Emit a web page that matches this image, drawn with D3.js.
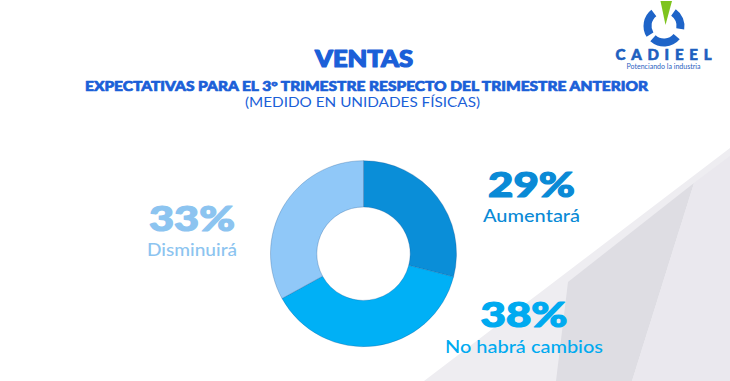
<!DOCTYPE html>
<html>
<head>
<meta charset="utf-8">
<script src="https://cdn.jsdelivr.net/npm/d3@7"></script>
<style>
  html, body { margin: 0; padding: 0; background: #ffffff; }
  svg { display: block; }
</style>
</head>
<body>
<svg id="chart" width="730" height="381"></svg>
<script>
// ---- Data ----
const categories = ["Aumentará", "No habrá cambios", "Disminuirá"];
const values = [29, 38, 33];
const valueLabels = ["29%", "38%", "33%"];
const colors = ["#0a8ed8", "#00b0f6", "#90c8f8"];
const labelColors = ["#0a8ad6", "#00aaf0", "#8cc4f0"];

const titleText = "VENTAS";
const subtitleText = "EXPECTATIVAS PARA EL 3° TRIMESTRE RESPECTO DEL TRIMESTRE ANTERIOR";
const noteText = "(MEDIDO EN UNIDADES FÍSICAS)";

const W = 730, H = 381;
const svg = d3.select("#chart");

// ---- Background decorative shapes ----
const bg = svg.append("g");
bg.append("path").attr("d", "M424,381 L730,148 L730,381 Z").attr("fill", "#eeedf1");
bg.append("path").attr("d", "M556,381 L568,282 L694,183 L632,381 Z").attr("fill", "#dedde3");
bg.append("path").attr("d", "M632,381 L694,183 L730,156 L730,381 Z").attr("fill", "#eae8ee");

// ---- Titles ----
const font = "Lato, 'Open Sans', sans-serif";
const heavy = sel => sel.attr("stroke", sel.attr("fill")).attr("stroke-linejoin", "round");
svg.append("text").attr("x", 364).attr("y", 66.8).attr("text-anchor", "middle")
  .attr("font-family", font).attr("font-weight", 900).attr("font-size", 22.5)
  .attr("textLength", 98).attr("lengthAdjust", "spacingAndGlyphs")
  .attr("fill", "#1b5fd8").call(heavy).attr("stroke-width", 1.2).text(titleText);
svg.append("text").attr("x", 366.5).attr("y", 91.3).attr("text-anchor", "middle")
  .attr("font-family", font).attr("font-weight", 900).attr("font-size", 14)
  .attr("textLength", 563).attr("lengthAdjust", "spacingAndGlyphs")
  .attr("fill", "#1b5fd8").call(heavy).attr("stroke-width", 0.7).text(subtitleText);
svg.append("text").attr("x", 362.5).attr("y", 107).attr("text-anchor", "middle")
  .attr("font-family", font).attr("font-weight", 400).attr("font-size", 13.5)
  .attr("textLength", 235).attr("lengthAdjust", "spacingAndGlyphs")
  .attr("fill", "#1b5fd8").text(noteText);

// ---- Donut ----
const cx = 363.5, cy = 253.7, rOuter = 93, rInner = 46.7;
const pie = d3.pie().sort(null).value(d => d)(values);
const arc = d3.arc().innerRadius(rInner).outerRadius(rOuter);
const g = svg.append("g").attr("transform", `translate(${cx},${cy})`);
g.selectAll("path").data(pie).join("path")
  .attr("d", arc)
  .attr("fill", (d, i) => colors[i])
  .attr("stroke", "rgba(20,80,140,0.28)")
  .attr("stroke-width", 1);

// ---- Labels ----
const labelLayout = [
  { x: 531.5, yv: 197, yc: 221.5 },
  { x: 524, yv: 327, yc: 353.3 },
  { x: 192, yv: 230.5, yc: 256 }
];
const catWidths = [97, 158, 90];
const valWidths = [87, 87, 86];
const lab = svg.append("g");
categories.forEach((c, i) => {
  const L = labelLayout[i];
  lab.append("text").attr("x", L.x).attr("y", L.yv).attr("text-anchor", "middle")
    .attr("font-family", font).attr("font-weight", 900).attr("font-size", 35)
    .attr("textLength", valWidths[i]).attr("lengthAdjust", "spacingAndGlyphs")
    .attr("fill", labelColors[i]).attr("stroke", labelColors[i]).attr("stroke-width", 1.2)
    .attr("stroke-linejoin", "round").text(valueLabels[i]);
  lab.append("text").attr("x", L.x).attr("y", L.yc).attr("text-anchor", "middle")
    .attr("font-family", font).attr("font-weight", 500).attr("font-size", 18)
    .attr("textLength", catWidths[i]).attr("lengthAdjust", "spacingAndGlyphs")
    .attr("fill", labelColors[i]).text(c);
});

// ---- Logo ----
const logo = svg.append("g");
const lg = logo.append("g").attr("transform", "translate(664,26)");
const la = d3.arc().innerRadius(12.5).outerRadius(20.5);
[[35, 100], [130, 222], [238, 322]].forEach(([a0, a1]) => {
  lg.append("path").attr("d", la({ startAngle: a0 * Math.PI / 180, endAngle: a1 * Math.PI / 180 }))
    .attr("fill", "#1e64c8");
});
logo.append("path").attr("d", "M660.5,1 L672,1 L665.5,25 Z").attr("fill", "#7ec41e");
logo.append("text").attr("x", 663.5).attr("y", 60).attr("text-anchor", "middle")
  .attr("font-family", font).attr("font-weight", 900).attr("font-size", 15)
  .attr("textLength", 96).attr("lengthAdjust", "spacing")
  .attr("fill", "#1e5fbf").attr("stroke", "#1e5fbf").attr("stroke-width", 0.6).text("CADIEEL");
logo.append("text").attr("x", 663.5).attr("y", 69).attr("text-anchor", "middle")
  .attr("font-family", font).attr("font-weight", 400).attr("font-size", 7)
  .attr("textLength", 74).attr("lengthAdjust", "spacingAndGlyphs")
  .attr("fill", "#2a62c0").text("Potenciando la industria");
</script>
</body>
</html>
